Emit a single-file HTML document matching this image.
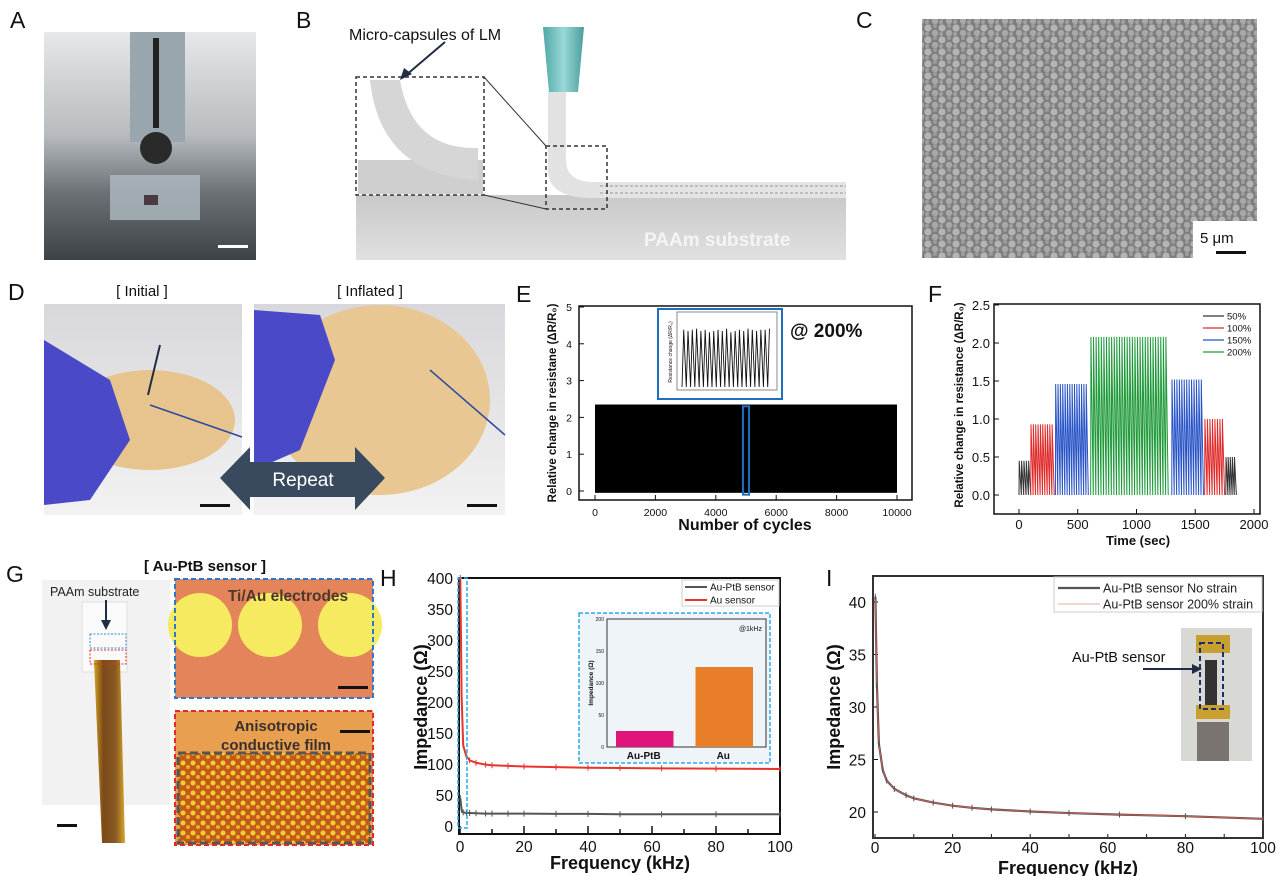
<!DOCTYPE html>
<html><head><meta charset="utf-8"><style>
html,body{margin:0;padding:0;background:#fff;}
svg{display:block;font-family:"Liberation Sans",sans-serif;}
</style></head><body>
<svg id="fig" width="1280" height="876" viewBox="0 0 1280 876" xmlns="http://www.w3.org/2000/svg">
<defs>
<pattern id="sem" width="14" height="12" patternUnits="userSpaceOnUse">
<rect width="14" height="12" fill="#7e7e7e"/>
<circle cx="4" cy="4" r="3.6" fill="#b4b4b4"/><circle cx="11" cy="9" r="3.2" fill="#a8a8a8"/><circle cx="11" cy="2" r="2" fill="#9c9c9c"/><circle cx="3" cy="10" r="2" fill="#a0a0a0"/>
</pattern>
<pattern id="film" width="10" height="10" patternUnits="userSpaceOnUse">
<rect width="10" height="10" fill="#c45a1a"/><circle cx="3" cy="3" r="2.5" fill="#f0d030"/><circle cx="8" cy="7" r="2" fill="#e8b028"/>
</pattern>
<linearGradient id="gA" x1="0" y1="0" x2="0" y2="1"><stop offset="0" stop-color="#e6e8ea"/><stop offset="0.45" stop-color="#b8bcbf"/><stop offset="0.7" stop-color="#6c7276"/><stop offset="1" stop-color="#3c4246"/></linearGradient>
<linearGradient id="gD" x1="0" y1="0" x2="0" y2="1"><stop offset="0" stop-color="#d8d8dc"/><stop offset="1" stop-color="#f2f2f2"/></linearGradient>
<linearGradient id="gNoz" x1="0" y1="0" x2="1" y2="0"><stop offset="0" stop-color="#4fa8a8"/><stop offset="0.5" stop-color="#9ad8d6"/><stop offset="1" stop-color="#4a9e9e"/></linearGradient>
<linearGradient id="gSub" x1="0" y1="0" x2="0" y2="1"><stop offset="0" stop-color="#c9c9c9"/><stop offset="1" stop-color="#e0e0e0"/></linearGradient>
<linearGradient id="gStrip" x1="0" y1="0" x2="1" y2="0"><stop offset="0" stop-color="#d4a020"/><stop offset="0.3" stop-color="#7a4a1a"/><stop offset="0.7" stop-color="#8a5a22"/><stop offset="1" stop-color="#d9a62a"/></linearGradient>
</defs>

<g font-size="23" fill="#111">
<text x="10" y="28">A</text>
<text x="296" y="28">B</text>
<text x="856" y="28">C</text>
<text x="8" y="300">D</text>
<text x="516" y="302">E</text>
<text x="928" y="302">F</text>
<text x="6" y="582">G</text>
<text x="380" y="586">H</text>
<text x="826" y="586">I</text>
</g>

<g>
<rect x="44" y="32" width="212" height="228" fill="url(#gA)"/>
<rect x="130" y="32" width="55" height="110" fill="#9aa6ad"/>
<rect x="153" y="38" width="6" height="90" fill="#222"/>
<circle cx="156" cy="148" r="16" fill="#2a2a2a"/>
<rect x="110" y="175" width="90" height="45" fill="#aebbc0" opacity="0.8"/>
<rect x="144" y="195" width="14" height="10" fill="#4a3a40"/>
<rect x="218" y="245" width="30" height="3" fill="#fff"/>
</g>

<g>
<rect x="356" y="195" width="490" height="65" fill="url(#gSub)"/>
<rect x="600" y="182" width="246" height="16" fill="#e4e4e4"/>
<line x1="600" y1="186" x2="846" y2="186" stroke="#bdbdbd" stroke-width="2" stroke-dasharray="3 2"/>
<line x1="600" y1="193" x2="846" y2="193" stroke="#bdbdbd" stroke-width="2" stroke-dasharray="3 2"/>
<path d="M548 92 L548 170 Q548 200 600 198 L600 182 Q566 184 566 160 L566 92 Z" fill="#e2e2e2"/>
<polygon points="543,27 584,27 578,92 549,92" fill="url(#gNoz)"/>
<rect x="356" y="77" width="128" height="118" fill="#fff" stroke="#333" stroke-width="1.5" stroke-dasharray="4 3"/>
<rect x="358" y="160" width="125" height="34" fill="#cfcfcf"/>
<path d="M370 80 Q380 175 478 180 L478 148 Q412 150 400 80 Z" fill="#d6d6d6"/>
<rect x="546" y="146" width="61" height="63" fill="none" stroke="#333" stroke-width="1.5" stroke-dasharray="4 3"/>
<line x1="484" y1="77" x2="546" y2="146" stroke="#333" stroke-width="1"/>
<line x1="484" y1="195" x2="546" y2="209" stroke="#333" stroke-width="1"/>
<line x1="445" y1="42" x2="405" y2="76" stroke="#1f2d44" stroke-width="2"/>
<polygon points="400,80 404,68 412,74" fill="#1f2d44"/>
<text x="349" y="40" font-size="16" fill="#111">Micro-capsules of LM</text>
<text x="644" y="246" font-size="19" font-weight="bold" fill="#f4f4f4">PAAm substrate</text>
</g>

<g>
<rect x="922" y="19" width="335" height="239" fill="url(#sem)"/>
<rect x="1193" y="221" width="64" height="37" fill="#fff"/>
<text x="1200" y="243" font-size="15" fill="#111">5 μm</text>
<rect x="1216" y="251" width="30" height="3" fill="#111"/>
</g>

<g>
<text x="142" y="296" font-size="15" text-anchor="middle" fill="#111">[ Initial ]</text>
<text x="370" y="296" font-size="15" text-anchor="middle" fill="#111">[ Inflated ]</text>
<rect x="44" y="304" width="198" height="211" fill="url(#gD)"/>
<ellipse cx="150" cy="420" rx="85" ry="50" fill="#e7c48e"/>
<path d="M44 340 L110 380 L130 440 L90 500 L44 505 Z" fill="#4a4ac8"/>
<rect x="254" y="304" width="251" height="211" fill="url(#gD)"/>
<ellipse cx="380" cy="400" rx="110" ry="95" fill="#e9c792"/>
<path d="M254 310 L320 315 L335 360 L300 450 L254 470 Z" fill="#4a4ac8"/>
<line x1="160" y1="345" x2="148" y2="395" stroke="#1f2d44" stroke-width="2"/>
<line x1="150" y1="405" x2="242" y2="437" stroke="#2a4aa0" stroke-width="1.5"/>
<line x1="430" y1="370" x2="505" y2="435" stroke="#2a4aa0" stroke-width="1.5"/>
<rect x="200" y="504" width="30" height="3" fill="#111"/>
<rect x="467" y="504" width="30" height="3" fill="#111"/>
<polygon points="220,478 250,447 250,462 355,462 355,447 385,478 355,510 355,497 250,497 250,510" fill="#3a4a5e"/>
<text x="303" y="486" font-size="19" text-anchor="middle" fill="#fff">Repeat</text>
</g>

<g>
<text x="205" y="571" font-size="15" font-weight="bold" text-anchor="middle" fill="#111">[ Au-PtB sensor ]</text>
<rect x="42" y="580" width="128" height="225" fill="#f2f2f2"/>
<rect x="82" y="602" width="45" height="70" fill="#fafafa" stroke="#ddd"/>
<polygon points="94,660 120,660 125,843 102,843" fill="url(#gStrip)"/>
<rect x="90" y="634" width="36" height="14" fill="none" stroke="#3a8ad8" stroke-dasharray="2 1.5"/>
<rect x="90" y="650" width="36" height="14" fill="none" stroke="#e03030" stroke-dasharray="2 1.5"/>
<text x="50" y="596" font-size="12.5" fill="#222">PAAm substrate</text>
<line x1="106" y1="600" x2="106" y2="625" stroke="#1f2d44" stroke-width="2"/>
<polygon points="101,620 111,620 106,630" fill="#1f2d44"/>
<rect x="57" y="824" width="20" height="3" fill="#111"/>
<rect x="175" y="579" width="198" height="119" fill="#e4845a"/>
<circle cx="200" cy="625" r="32" fill="#f6ea60"/><circle cx="270" cy="625" r="32" fill="#f6ea60"/><circle cx="350" cy="625" r="32" fill="#f6ea60"/>
<rect x="175" y="579" width="198" height="119" fill="none" stroke="#2a78d0" stroke-width="2" stroke-dasharray="5 3"/>
<text x="288" y="601" font-size="15.5" font-weight="bold" text-anchor="middle" fill="#4a3a2a">Ti/Au electrodes</text>
<rect x="338" y="686" width="30" height="3" fill="#111"/>
<rect x="175" y="711" width="198" height="134" fill="#e8a050"/>
<rect x="178" y="753" width="192" height="90" fill="url(#film)"/>
<rect x="178" y="753" width="192" height="90" fill="none" stroke="#555" stroke-width="3" stroke-dasharray="8 4"/>
<rect x="175" y="711" width="198" height="134" fill="none" stroke="#e02a2a" stroke-width="2" stroke-dasharray="5 3"/>
<text x="276" y="731" font-size="15" font-weight="bold" text-anchor="middle" fill="#3a3030">Anisotropic</text>
<text x="276" y="750" font-size="15" font-weight="bold" text-anchor="middle" fill="#3a3030">conductive film</text>
<rect x="340" y="730" width="30" height="3" fill="#111"/>
</g>

<g id="charts"></g>
</svg>
<script>
// ---------- Panel E data ----------
const eCycles = [0, 10000];
const ePeak = 2.35;
const eXTicks = [0, 2000, 4000, 6000, 8000, 10000];
const eYTicks = [0, 1, 2, 3, 4, 5];
const eInsetPeaks = [2.35,2.3,2.35,2.4,2.3,2.35,2.25,2.3,2.35,2.3,2.4,2.25,2.3,2.35,2.3,2.4,2.35,2.3,2.35,2.35,2.4];
// ---------- Panel F data ----------
const fLabels = ['50%','100%','150%','200%','150%','100%','50%'];
const fStart = [0, 100, 310, 610, 1300, 1580, 1760];
const fEnd = [100, 300, 590, 1270, 1570, 1750, 1850];
const fPeak = [0.45, 0.93, 1.46, 2.08, 1.52, 1.0, 0.5];
const fCount = [5, 10, 14, 30, 13, 8, 5];
const fXTicks = [0, 500, 1000, 1500, 2000];
const fYTicks = [0, 0.5, 1.0, 1.5, 2.0, 2.5];
// ---------- Panel H data ----------
const hFreq = [0.1, 0.5, 1, 2, 3, 5, 8, 10, 15, 20, 30, 40, 50, 63, 80, 100];
const hAu = [400, 210, 130, 112, 106, 102, 99, 98, 97, 96, 95, 94, 93.5, 93, 92.5, 92];
const hAuPtB = [45, 26, 22, 21, 21, 20.5, 20, 20, 20, 20, 19.5, 19.5, 19, 19, 19, 19];
const hXTicks = [0, 20, 40, 60, 80, 100];
const hYTicks = [0, 50, 100, 150, 200, 250, 300, 350, 400];
const hBarCats = ['Au-PtB', 'Au'];
const hBarVals = [25, 125];
const hBarTicks = [0, 50, 100, 150, 200];
// ---------- Panel I data ----------
const iFreq = [0.1, 0.5, 1, 2, 3, 5, 8, 10, 15, 20, 25, 30, 40, 50, 63, 80, 100];
const iNoStrain = [40.5, 32, 26.5, 24, 23, 22.2, 21.6, 21.3, 20.9, 20.6, 20.4, 20.25, 20.05, 19.9, 19.75, 19.6, 19.35];
const iStrain = [40.3, 31.8, 26.4, 24, 23, 22.2, 21.6, 21.3, 20.9, 20.6, 20.4, 20.25, 20.05, 19.9, 19.75, 19.6, 19.35];
const iXTicks = [0, 20, 40, 60, 80, 100];
const iYTicks = [20, 25, 30, 35, 40];

const NS = 'http://www.w3.org/2000/svg';
const root = document.getElementById('charts');
function mk(tag, attrs, parent) {
  const el = document.createElementNS(NS, tag);
  for (const k in attrs) el.setAttribute(k, attrs[k]);
  (parent || root).appendChild(el);
  return el;
}
function lin(d0, d1, r0, r1) { return v => r0 + (v - d0) * (r1 - r0) / (d1 - d0); }
function txt(x, y, s, size, extra, parent) {
  const t = mk('text', Object.assign({x: x, y: y, 'font-size': size, fill: '#111'}, extra || {}), parent);
  t.textContent = s;
  return t;
}

// ================= Panel E =================
(function () {
  const g = mk('g', {});
  
  
  const x = lin(0, 10000, 595, 897), y = lin(0, 5, 491, 307);
  const frame = mk('rect', {x: 579, y: 306, width: 333, height: 194, fill: 'none', stroke: '#111', 'stroke-width': 1.5}, g);
  
  
  const fill = mk('rect', {x: x(eCycles[0]), y: y(ePeak), width: x(eCycles[1]) - x(eCycles[0]), height: y(-0.05) - y(ePeak), fill: '#000'}, g);
  
  
  eXTicks.forEach(v => {
    const l = mk('line', {x1: x(v), x2: x(v), y1: 500, y2: 495, stroke: '#111'}, g);
    
    
    const t = txt(x(v), 516, String(v), 10.5, {'text-anchor': 'middle'}, g);
    
    
  });
  eYTicks.forEach(v => {
    const l = mk('line', {x1: 579, x2: 584, y1: y(v), y2: y(v), stroke: '#111'}, g);
    
    
    const t = txt(572, y(v) + 4, String(v), 10.5, {'text-anchor': 'end'}, g);
    
    
  });
  const hl = mk('rect', {x: x(4900), y: y(2.3), width: x(5100) - x(4900), height: y(-0.1) - y(2.3), fill: 'none', stroke: '#1e6fc0', 'stroke-width': 2}, g);
  
  
  const xl = txt(745, 530, 'Number of cycles', 16, {'text-anchor': 'middle', 'font-weight': 'bold'}, g);
  
  
  const yl = txt(0, 0, 'Relative change in resistane (ΔR/R₀)', 11.5, {'text-anchor': 'middle', 'font-weight': 'bold', transform: 'translate(556,403) rotate(-90)'}, g);
  
  
  const ann = txt(790, 337, '@ 200%', 19, {'font-weight': 'bold'}, g);
  
  
  const ib = mk('rect', {x: 658, y: 309, width: 124, height: 90, fill: '#fff', stroke: '#1e6fc0', 'stroke-width': 2}, g);
  
  
  const ip = mk('rect', {x: 677, y: 312, width: 100, height: 78, fill: 'none', stroke: '#888'}, g);
  
  
  const ix = lin(0, eInsetPeaks.length, 682, 772), iy = lin(0, 3, 387, 314);
  let d = '';
  eInsetPeaks.forEach((p, i) => {
    d += (i ? 'L' : 'M') + ix(i) + ' ' + iy(0) + ' L' + ix(i + 0.4) + ' ' + iy(p) + ' ';
  });
  const il = mk('path', {d: d, fill: 'none', stroke: '#111', 'stroke-width': 0.9}, g);
  
  
  const iyl = txt(0, 0, 'Resistance change (ΔR/R₀)', 5, {'text-anchor': 'middle', transform: 'translate(672,352) rotate(-90)'}, g);
  
  
})();

// ================= Panel F =================
(function () {
  const g = mk('g', {});
  
  
  const x = lin(0, 2000, 1019, 1254), y = lin(0, 2.5, 495, 305);
  const colors = {'50%': '#333', '100%': '#e02a2a', '150%': '#2a55c8', '200%': '#1f9a3a'};
  const frame = mk('rect', {x: 994, y: 304, width: 266, height: 210, fill: 'none', stroke: '#111', 'stroke-width': 1.5}, g);
  
  
  fLabels.forEach((lab, s) => {
    const n = fCount[s], step = (fEnd[s] - fStart[s]) / n;
    let d = 'M' + x(fStart[s]) + ' ' + y(0);
    for (let k = 0; k < n; k++) {
      d += ' L' + x(fStart[s] + k * step + step * 0.1) + ' ' + y(fPeak[s]) + ' L' + x(fStart[s] + (k + 1) * step) + ' ' + y(0);
    }
    const p = mk('path', {d: d, fill: 'none', stroke: colors[lab], 'stroke-width': 1}, g);
    
    
  });
  fXTicks.forEach(v => {
    const l = mk('line', {x1: x(v), x2: x(v), y1: 514, y2: 509, stroke: '#111'}, g);
    
    
    const t = txt(x(v), 529, String(v), 13, {'text-anchor': 'middle'}, g);
    
    
  });
  fYTicks.forEach(v => {
    const l = mk('line', {x1: 994, x2: 999, y1: y(v), y2: y(v), stroke: '#111'}, g);
    
    
    const t = txt(990, y(v) + 5, v.toFixed(1), 13, {'text-anchor': 'end'}, g);
    
    
  });
  const xl = txt(1138, 545, 'Time (sec)', 13, {'text-anchor': 'middle', 'font-weight': 'bold'}, g);
  
  
  const yl = txt(0, 0, 'Relative change in resistance (ΔR/R₀)', 11.5, {'text-anchor': 'middle', 'font-weight': 'bold', transform: 'translate(963,405) rotate(-90)'}, g);
  
  
  ['50%', '100%', '150%', '200%'].forEach((lab, i) => {
    const ly = 316 + i * 12;
    const l = mk('line', {x1: 1203, x2: 1224, y1: ly, y2: ly, stroke: colors[lab], 'stroke-width': 1.2}, g);
    
    
    const t = txt(1227, ly + 3.5, lab, 9.5, {}, g);
    
    
  });
})();

// ================= Panel H =================
(function () {
  const g = mk('g', {});
  
  
  const x = lin(0, 100, 460, 780), y = lin(0, 400, 826, 578);
  hXTicks.forEach(v => {
    const t = txt(x(v), 852, String(v), 15.5, {'text-anchor': 'middle'}, g);
    
    
  });
  for (let v = 0; v <= 100; v += 10) {
    const l = mk('line', {x1: x(v), x2: x(v), y1: 834, y2: v % 20 ? 829 : 826, stroke: '#111', 'stroke-width': 1.5}, g);
    
    
  }
  hYTicks.forEach(v => {
    const t = txt(453, y(v) + 6, String(v), 15.5, {'text-anchor': 'end'}, g);
    
    
  });
  const frame = mk('rect', {x: 459, y: 578, width: 321, height: 256, fill: 'none', stroke: '#111', 'stroke-width': 2}, g);
  
  
  function series(vals, color, name) {
    const pts = hFreq.map((f, i) => x(f) + ',' + y(vals[i])).join(' ');
    const pl = mk('polyline', {points: pts, fill: 'none', stroke: color, 'stroke-width': 2}, g);
    
    
    hFreq.forEach((f, i) => {
      const m = mk('line', {x1: x(f), x2: x(f), y1: y(vals[i]) - 3, y2: y(vals[i]) + 3, stroke: color, 'stroke-width': 1}, g);
      
      
    });
  }
  series(hAuPtB, '#555', 'h-series-au-ptb');
  series(hAu, '#e8342c', 'h-series-au');
  const zb = mk('rect', {x: 458, y: 578, width: 9, height: 250, fill: 'none', stroke: '#2ea8e8', 'stroke-width': 1.5, 'stroke-dasharray': '4 2'}, g);
  
  
  const xl = txt(620, 869, 'Frequency (kHz)', 18, {'text-anchor': 'middle', 'font-weight': 'bold'}, g);
  
  
  const yl = txt(0, 0, 'Impedance (Ω)', 18, {'text-anchor': 'middle', 'font-weight': 'bold', transform: 'translate(427,707) rotate(-90)'}, g);
  
  
  const lb = mk('rect', {x: 682, y: 580, width: 97, height: 26, fill: '#fff', stroke: '#ccc'}, g);
  
  
  [['Au-PtB sensor', '#555', 587], ['Au sensor', '#e8342c', 600]].forEach(e => {
    const l = mk('line', {x1: 685, x2: 707, y1: e[2], y2: e[2], stroke: e[1], 'stroke-width': 2}, g);
    
    
    const t = txt(710, e[2] + 3.5, e[0], 10, {}, g);
    
    
  });
  const ib = mk('rect', {x: 579, y: 613, width: 191, height: 150, fill: '#eef4f8', stroke: '#2ea8e8', 'stroke-width': 1.5, 'stroke-dasharray': '4 2'}, g);
  
  
  const bx0 = 607, bx1 = 766, by = lin(0, 200, 747, 619);
  const ip = mk('rect', {x: bx0, y: 619, width: bx1 - bx0, height: 128, fill: 'none', stroke: '#333'}, g);
  
  
  const bw = (bx1 - bx0) / hBarCats.length;
  const bcol = ['#e0157a', '#e87e28'];
  hBarCats.forEach((c, i) => {
    const b = mk('rect', {x: bx0 + i * bw + 9, y: by(hBarVals[i]), width: bw - 22, height: by(0) - by(hBarVals[i]), fill: bcol[i]}, g);
    
    
    const t = txt(bx0 + i * bw + bw / 2 - 3, 759, c, 10, {'text-anchor': 'middle', 'font-weight': 'bold'}, g);
    
    
  });
  hBarTicks.forEach(v => {
    const t = txt(604, by(v) + 2, String(v), 5, {'text-anchor': 'end'}, g);
    
    
  });
  const iyl = txt(0, 0, 'Impedance (Ω)', 6.5, {'text-anchor': 'middle', 'font-weight': 'bold', transform: 'translate(593,683) rotate(-90)'}, g);
  
  
  const ia = txt(762, 631, '@1kHz', 7, {'text-anchor': 'end'}, g);
  
  
})();

// ================= Panel I =================
(function () {
  const g = mk('g', {});
  
  
  const x = lin(0, 100, 875, 1263), y = lin(20, 40, 812, 602);
  iXTicks.forEach(v => {
    const t = txt(x(v), 853, String(v), 15.5, {'text-anchor': 'middle'}, g);
    
    
  });
  for (let v = 0; v <= 100; v += 10) {
    const l = mk('line', {x1: x(v), x2: x(v), y1: 838, y2: 834, stroke: '#111'}, g);
    
    
  }
  iYTicks.forEach(v => {
    const t = txt(866, y(v) + 6, String(v), 15.5, {'text-anchor': 'end'}, g);
    
    
    const l = mk('line', {x1: 873, x2: 878, y1: y(v), y2: y(v), stroke: '#111'}, g);
    
    
  });
  const frame = mk('rect', {x: 873, y: 576, width: 390, height: 262, fill: 'none', stroke: '#333', 'stroke-width': 2}, g);
  
  
  const p1 = mk('polyline', {points: iFreq.map((f, i) => x(f) + ',' + y(iNoStrain[i])).join(' '), fill: 'none', stroke: '#555', 'stroke-width': 2.2}, g);
  
  
  const p2 = mk('polyline', {points: iFreq.map((f, i) => x(f) + ',' + y(iStrain[i])).join(' '), fill: 'none', stroke: '#e85a50', 'stroke-width': 0.8}, g);
  
  
  iFreq.forEach((f, i) => {
    const m = mk('line', {x1: x(f), x2: x(f), y1: y(iNoStrain[i]) - 3, y2: y(iNoStrain[i]) + 3, stroke: '#555'}, g);
    
    
  });
  const xl = txt(1068, 874, 'Frequency (kHz)', 18, {'text-anchor': 'middle', 'font-weight': 'bold'}, g);
  
  
  const yl = txt(0, 0, 'Impedance (Ω)', 18, {'text-anchor': 'middle', 'font-weight': 'bold', transform: 'translate(840,707) rotate(-90)'}, g);
  
  
  const lb = mk('rect', {x: 1054, y: 577, width: 208, height: 35, fill: '#fff', stroke: '#ccc'}, g);
  
  
  [['Au-PtB sensor No strain', '#555', 588, 2.2], ['Au-PtB sensor 200% strain', '#e88a80', 604, 0.8]].forEach(e => {
    const l = mk('line', {x1: 1058, x2: 1100, y1: e[2], y2: e[2], stroke: e[1], 'stroke-width': e[3]}, g);
    
    
    const t = txt(1103, e[2] + 4.5, e[0], 12.5, {fill: '#222'}, g);
    
    
  });
  const ph = mk('g', {}, g);
  
  
  mk('rect', {x: 1181, y: 628, width: 71, height: 133, fill: '#d8d8d4'}, ph);
  mk('rect', {x: 1205, y: 660, width: 12, height: 55, fill: '#333'}, ph);
  mk('rect', {x: 1196, y: 635, width: 34, height: 18, fill: '#c8a030'}, ph);
  mk('rect', {x: 1196, y: 705, width: 34, height: 14, fill: '#c8a030'}, ph);
  mk('rect', {x: 1197, y: 722, width: 32, height: 39, fill: '#7a7470'}, ph);
  mk('rect', {x: 1200, y: 643, width: 23, height: 66, fill: 'none', stroke: '#1f2d6a', 'stroke-width': 2, 'stroke-dasharray': '5 3'}, ph);
  const at = txt(1072, 662, 'Au-PtB sensor', 14.5, {}, g);
  
  
  const al = mk('line', {x1: 1143, x2: 1194, y1: 669, y2: 669, stroke: '#1f2d44', 'stroke-width': 2}, g);
  
  
  const ah = mk('polygon', {points: '1202,669 1192,664 1192,674', fill: '#1f2d44'}, g);
  
  
})();
</script>
</body></html>
